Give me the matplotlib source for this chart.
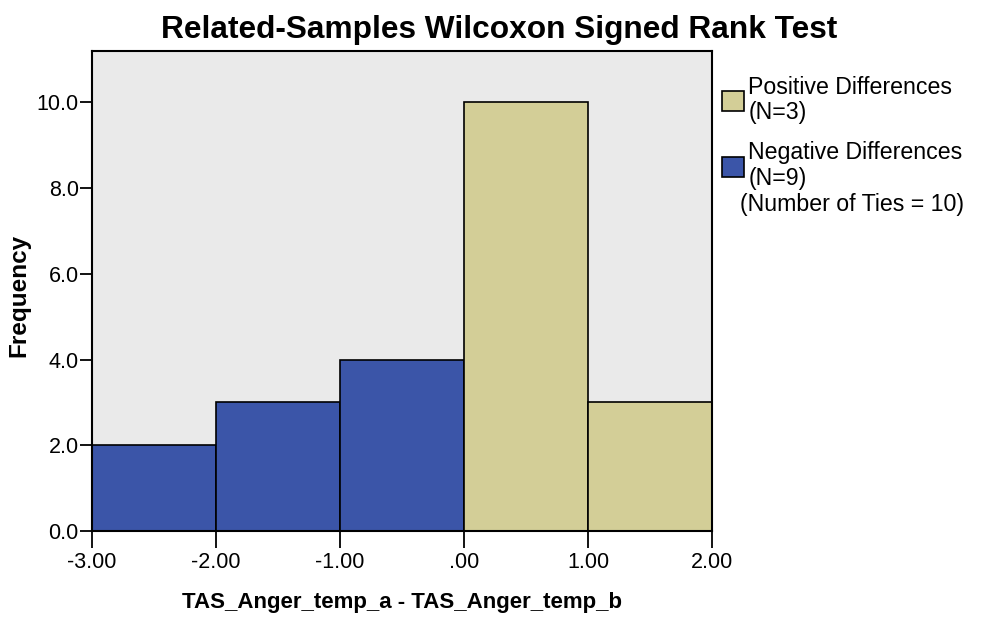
import matplotlib.pyplot as plt
from matplotlib.patches import Patch
import numpy as np

plt.rcParams['font.family'] = ['Liberation Sans', 'DejaVu Sans']

# histogram of differences
bin_left = [-3.0, -2.0, -1.0, 0.0, 1.0]
counts = [2, 3, 4, 10, 3]
sign = ['neg', 'neg', 'neg', 'pos', 'pos']
xticks = [-3.0, -2.0, -1.0, 0.0, 1.0, 2.0]
xtick_labels = ['-3.00', '-2.00', '-1.00', '.00', '1.00', '2.00']
yticks = [0, 2, 4, 6, 8, 10]

blue = '#3b55a8'
tan = '#d3ce97'
colors = {'neg': blue, 'pos': tan}

fig = plt.figure(figsize=(9.82, 6.17), dpi=100)
ax = fig.add_axes([0.0937, 0.1394, 0.6314, 0.7779])
ax.set_facecolor('#eaeaea')

ax.bar(bin_left, counts, width=1.0, align='edge',
       color=[colors[s] for s in sign], edgecolor='black', linewidth=1.2)

ax.set_xlim(-3, 2)
ax.set_ylim(0, 11.2)
ax.set_xticks(xticks)
ax.set_xticklabels(xtick_labels)
ax.set_yticks(yticks)
ax.set_yticklabels(['%.1f' % v for v in yticks])
ax.tick_params(axis='x', direction='out', length=12, width=1.3, labelsize=15.5, pad=3)
ax.tick_params(axis='y', direction='out', length=9, width=1.3, labelsize=15.5, pad=0.5)
for sp in ax.spines.values():
    sp.set_linewidth(1.5)

ax.set_xlabel('TAS_Anger_temp_a - TAS_Anger_temp_b', fontsize=16, fontweight='bold', labelpad=14)
ax.set_ylabel('Frequency', fontsize=17.5, fontweight='bold')
ax.yaxis.set_label_coords(-0.1, 0.49)
fig.text(0.508, 0.952, 'Related-Samples Wilcoxon Signed Rank Test', ha='center', va='center',
         fontsize=22.8, fontweight='bold')

handles = [Patch(facecolor=tan, edgecolor='black', linewidth=1.2),
           Patch(facecolor=blue, edgecolor='black', linewidth=1.2)]
labels = ['Positive Differences\n(N=3)', 'Negative Differences\n(N=9)']
leg = fig.legend(handles, labels, loc='upper left', bbox_to_anchor=(0.735, 0.877),
                 frameon=False, fontsize=16.7, handlelength=0.95, handleheight=0.95,
                 handletextpad=0.2, labelspacing=0.75, borderaxespad=0, borderpad=0)
for t in leg.get_texts():
    t.set_linespacing(1.12)
fig.text(0.754, 0.668, '(Number of Ties = 10)', fontsize=16.7, va='center')

fig.savefig('out.png', dpi=100)
